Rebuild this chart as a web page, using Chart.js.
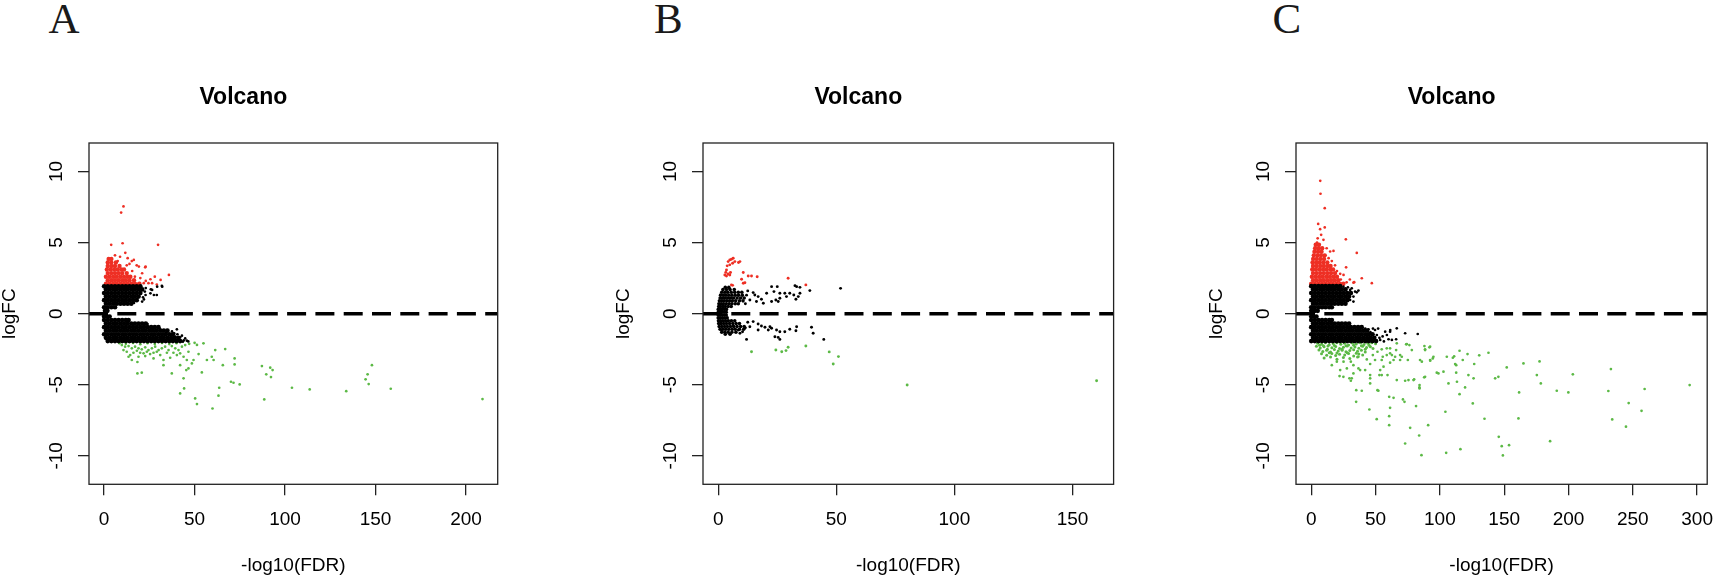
<!DOCTYPE html>
<html>
<head>
<meta charset="utf-8">
<script src="https://cdn.jsdelivr.net/npm/chart.js@4.4.1/dist/chart.umd.min.js"></script>
<style>
  html, body { margin: 0; padding: 0; background: #fff; overflow: hidden; }
  body { width: 1713px; height: 578px; position: relative; }
  canvas { position: absolute; top: 0; }
  .letter { position: absolute; top: -2.7px; font: 43px/43px "Liberation Serif", "Times New Roman", serif; color: #1a1a1a; }
</style>
</head>
<body>
<div class="letter" style="left:48.5px">A</div>
<div class="letter" style="left:654px">B</div>
<div class="letter" style="left:1272.5px">C</div>
<canvas id="chartA"></canvas>
<canvas id="chartB"></canvas>
<canvas id="chartC"></canvas>
<script>
// shared axis values
const yTicks = [-10, -5, 0, 5, 10];
const yRange = [-12, 12];
const aXTicks = [0, 50, 100, 150, 200];
const bXTicks = [0, 50, 100, 150];
const cXTicks = [0, 50, 100, 150, 200, 250, 300];

// panel A  (rows are [logFC, [-log10FDR ...]], pts are [-log10FDR, logFC])
const aRedRows = [
	[3.85, [2.5, 4]],
	[3.6, [2, 4, 6.5]],
	[3.35, [2, 4, 6, 8.5]],
	[3.1, [1.5, 3.5, 5.5, 7.5, 9.5, 11]],
	[2.85, [2, 4, 6, 8, 10, 12.5]],
	[2.6, [1, 3, 5, 7, 9, 11, 13, 14.5]],
	[2.35, [2, 4, 6, 8, 10, 12, 14, 16.5]],
	[2.1, [1, 3, 5, 7, 9, 11, 13, 15, 17, 19.5]]
];
const aRedPts = [[10.7, 7.54], [9.4, 7.11], [3.9, 4.84], [10.2, 4.95], [29.8, 4.84], [11.7, 4.28], [35.8, 2.72],
	[31.2, 2.37], [25.6, 2.42], [22.9, 3.31], [16.4, 3.78], [19.2, 3.31], [21, 2.84], [26.5, 2.14], [21.9, 2.14],
	[8.8, 4.0], [6, 4.1], [14, 3.5], [13, 3.9], [17, 2.6], [23, 2.3], [28, 2.6], [18.5, 2.1], [15.5, 3.0],
	[12.5, 3.4], [20, 2.5], [7.5, 3.7], [15.3, 3.7], [18, 3.4], [22.7, 3.26], [29.1, 2.05], [24.5, 2.14]];
const aBlackUpRows = [
	[1.92, [0, 2, 4, 6, 8, 10, 12, 14, 16, 18, 20]],
	[1.7, [1, 3, 5, 7, 9, 11, 13, 15, 17, 19, 21]],
	[1.45, [0, 2, 4, 6, 8, 10, 12, 14, 16, 18, 20]],
	[1.2, [1, 3, 5, 7, 9, 11, 13, 15, 17, 19]],
	[0.95, [0, 2, 4, 6, 8, 10, 12, 14, 16, 18]],
	[0.7, [1, 3, 5, 7, 9, 11, 13, 15]],
	[0.45, [0, 2, 4, 6]],
	[0.2, [0.5, 1.8]]
];
const aBlackLowRows = [
	[-0.2, [0, 1.5, 3]],
	[-0.45, [0, 2, 4, 6, 8, 10, 12, 13.5]],
	[-0.7, [1, 3, 5, 7, 9, 11, 13, 15, 17, 19, 21, 23]],
	[-0.95, [0, 2, 4, 6, 8, 10, 12, 14, 16, 18, 20, 22, 24, 26, 28, 30]],
	[-1.2, [1, 3, 5, 7, 9, 11, 13, 15, 17, 19, 21, 23, 25, 27, 29, 31, 33, 35]],
	[-1.45, [0, 2, 4, 6, 8, 10, 12, 14, 16, 18, 20, 22, 24, 26, 28, 30, 32, 34, 36, 38]],
	[-1.7, [1, 3, 5, 7, 9, 11, 13, 15, 17, 19, 21, 23, 25, 27, 29, 31, 33, 35, 37, 39, 41]],
	[-1.93, [2, 4, 6, 8, 10, 12, 14, 16, 18, 20, 22, 24, 26, 28, 30, 32, 34, 36, 38, 40, 42]]
];
const aBlackPts = [[26.5, 1.67], [29.3, 1.9], [32.1, 1.9], [25.6, 1.43], [27.5, 1.31], [22.9, 1.31], [21, 0.85],
	[29.1, 1.31], [31.9, 1.95], [25.8, 1.71], [23, 1.8], [22, 1.0], [16.5, 0.75], [22.5, 1.55], [21.5, 1.15],
	[24, -0.73], [27.3, -0.96], [31, -1.1], [34.3, -1.34], [36.5, -1.5], [39.3, -1.62], [41.1, -1.81],
	[43.5, -1.97], [45.7, -1.9], [40.2, -1.1], [38.7, -1.38], [34.7, -1.15], [42, -1.67], [44.8, -1.74],
	[37.5, -1.25], [40.5, -1.45], [43, -1.55], [44, -1.88], [46.5, -1.95], [39, -1.85]];
const aGreenPts = [[9.8, -2.21], [11.6, -2.32], [13.5, -2.28], [15.3, -2.44], [17.1, -2.32], [19, -2.44], [20.8, -2.51],
	[22.7, -2.37], [24.5, -2.56], [26.4, -2.44], [28.2, -2.32], [30.1, -2.56], [31.9, -2.44], [33.7, -2.32],
	[35.6, -2.56], [37.4, -2.28], [39.3, -2.44], [41.1, -2.56], [43, -2.32], [44.8, -2.21],
	[10.7, -2.56], [12.5, -2.68], [14.4, -2.91], [16.2, -2.75], [18.1, -2.61], [19.9, -2.75], [21.8, -2.79],
	[23.6, -2.68], [25.4, -2.84], [27.3, -2.75], [29.1, -2.68], [31, -2.91], [34.7, -2.75], [38.3, -2.75], [42, -2.79],
	[13.5, -3.03], [15.3, -3.26], [19, -3.03], [22.7, -2.98], [27.3, -3.15], [32.8, -3.26], [36.5, -3.1],
	[40.2, -2.91], [43.9, -3.03], [46.6, -2.68],
	[8.5, -2.08], [12, -2.12], [16, -2.06], [20, -2.15], [24, -2.08], [28, -2.13], [32, -2.06], [36, -2.14],
	[40, -2.08], [47, -2.12], [50, -2.05],
	[18.4, -3.4], [18.4, -4.2], [20.8, -4.15], [32.8, -3.62], [37.4, -4.2], [42, -3.62], [45.4, -3.97],
	[45.7, -3.26], [43.9, -4.55], [44.2, -5.26], [42, -5.61], [50.3, -5.96], [51.3, -6.36], [54, -4.13],
	[52.2, -2.84], [54.9, -2.09], [51.3, -2.2], [56.8, -3.26], [59.5, -3.03], [61.4, -2.56], [66.9, -2.49],
	[60.5, -3.26], [65.6, -3.62], [72.1, -3.15], [72.1, -3.57], [70.1, -4.79], [71.5, -4.86], [74.9, -4.98],
	[63.6, -5.21], [63.2, -5.77], [59.9, -6.67], [87.2, -3.69], [91.8, -3.8], [93.1, -3.97], [89.6, -4.27],
	[92.2, -4.46], [88.5, -6.03], [103.8, -5.21], [113.6, -5.33], [133.8, -5.45], [148, -3.62], [145.6, -4.27],
	[144.5, -4.62], [146.2, -4.95], [158.4, -5.28], [49.4, -3.26], [48.5, -3.5], [46.6, -3.85], [209.1, -6.01]];

// panel B
const bRedPts = [[5.6, 3.83], [6.35, 3.9], [4.9, 3.78], [7.05, 3.66], [4.2, 3.66], [9.2, 3.66], [3.8, 3.36],
	[4.9, 3.43], [6.1, 3.54], [3.5, 3.07], [2.8, 2.72], [4.2, 2.79], [3.5, 2.65], [4.9, 2.72], [5.2, 2.89],
	[10.6, 2.89], [12.7, 2.65], [14.1, 2.65], [16.5, 2.6], [9.9, 2.42], [10.6, 2.14], [5.6, 2.02], [29.6, 2.49],
	[37.1, 2.02], [3.2, 2.9], [8.6, 3.6], [11.3, 2.17], [6.1, 1.99]];
const bBlackRows = [
	[1.85, [3, 4.5]],
	[1.7, [2, 3.5, 5, 6.8]],
	[1.5, [1.5, 2.8, 4, 5.5, 7, 8.5, 10]],
	[1.3, [1, 2.2, 3.3, 4.5, 5.8, 7.2, 8.6, 10.2]],
	[1.1, [0.8, 1.8, 2.8, 4, 5.2, 6.5, 8, 9.5, 11]],
	[0.9, [0.5, 1.5, 2.5, 3.6, 4.8, 6, 7.4, 9, 10.5]],
	[0.7, [0.3, 1.2, 2.2, 3.4, 4.6, 5.8, 7.2, 8.5]],
	[0.5, [0.2, 1, 2, 3, 4.2, 5.5]],
	[0.3, [0, 0.8, 1.6, 2.6, 3.5]],
	[0.1, [0, 0.8, 1.6, 2.5, 3.4]],
	[-0.1, [0, 0.8, 1.6, 2.5, 3.4]],
	[-0.3, [0, 0.8, 1.8, 2.8, 3.8]],
	[-0.5, [0.1, 1, 2, 3.1, 4.3, 5.6, 7]],
	[-0.7, [0.2, 1.2, 2.3, 3.5, 4.8, 6.2, 7.6, 9]],
	[-0.9, [0.4, 1.5, 2.7, 3.9, 5.2, 6.6, 8, 9.5, 11]],
	[-1.1, [0.8, 2, 3.2, 4.5, 5.9, 7.2, 9, 10.8]],
	[-1.3, [1.5, 2.8, 4.2, 5.8, 7.5]],
	[-1.45, [3, 5]]
];
const bBlackPts = [[14.8, 1.48], [15.5, 1.31], [16.9, 1.2], [18.3, 1.01], [20.5, 1.43], [22.6, 1.9], [25, 1.9],
	[23.6, 1.55], [26.1, 1.43], [28.2, 1.43], [24.4, 0.96], [22.6, 0.85], [32.5, 1.97], [33.2, 1.9], [34.6, 1.85],
	[32, 1.31], [33.9, 1.2], [34.6, 1.43], [30.3, 1.43], [38.8, 1.62], [51.8, 1.78], [19.1, 0.73], [16.2, 0.85],
	[13.4, 0.96], [26.1, 1.08], [28.9, 1.2], [25.4, 0.85], [32.9, 1.01], [12, 1.3], [12.5, 1.6], [11.5, 0.7],
	[14.8, -0.56], [16.9, -0.73], [18.3, -0.87], [19.8, -0.96], [21.9, -0.92], [22.6, -1.03], [24.7, -1.15],
	[26.1, -1.27], [24, -1.62], [25.4, -1.67], [26.1, -1.81], [30.3, -1.1], [33.2, -0.92], [32.9, -1.2],
	[39.5, -0.96], [40.2, -1.38], [44.7, -1.81], [12, -1.81], [10.3, -1.27], [8.5, -1.15], [6.4, -0.87],
	[9.2, -1.38], [1.4, -1.15], [13.4, -0.92], [16.9, -1.15], [21.2, -1.15], [28.2, -1.27], [12.5, -0.6], [11.5, -1.0]];
const bGreenPts = [[14.1, -2.68], [24.4, -2.56], [26.9, -2.68], [28.7, -2.6], [29.6, -2.36], [37.1, -2.28],
	[47, -2.69], [50.9, -3.02], [48.7, -3.54], [80, -5.02], [160.2, -4.72]];

// panel C
const cRedRows = [
	[4.85, [3.5, 6]],
	[4.6, [3, 5.8, 8.5]],
	[4.35, [2.5, 5.3, 8]],
	[4.1, [2, 4.8, 7.6, 10.5]],
	[3.85, [1.5, 4.3, 7.1, 10]],
	[3.6, [1, 3.8, 6.6, 9.4, 12.5]],
	[3.35, [1.4, 4.2, 7, 9.8, 12.6, 15]],
	[3.1, [0.8, 3.6, 6.4, 9.2, 12, 14.8, 17]],
	[2.85, [1.4, 4.2, 7, 9.8, 12.6, 15.4, 18.5]],
	[2.6, [0.5, 3.3, 6.1, 8.9, 11.7, 14.5, 17.3, 20]],
	[2.35, [1.4, 4.2, 7, 9.8, 12.6, 15.4, 18.2, 21]],
	[2.1, [0, 2.8, 5.6, 8.4, 11.2, 14, 16.8, 19.6, 22.4, 25]]
];
const cRedPts = [[7, 9.34], [7.2, 8.43], [10.5, 7.42], [5.4, 6.31], [6.9, 5.94], [10.5, 6.06], [7.7, 5.54],
	[26.9, 5.23], [9.5, 5.19], [3.8, 4.84], [35.4, 4.27], [14.7, 4.37], [17.3, 4.41], [27.1, 3.26], [39.3, 2.49],
	[47.1, 2.14], [33.4, 2.21], [25.1, 2.72], [12, 4.6], [16, 3.7], [20, 3.0], [22.5, 2.8], [18.5, 3.4],
	[23, 2.4], [27.5, 2.2], [30, 2.4], [13.5, 3.9], [5, 5.3], [4.5, 5.0], [32.8, 2.18]];
const cBlackUpRows = [
	[1.93, [0, 2.8, 5.6, 8.4, 11.2, 14, 16.8, 19.6, 22.4]],
	[1.7, [1.4, 4.2, 7, 9.8, 12.6, 15.4, 18.2, 21, 23.8, 26.6]],
	[1.45, [0, 2.8, 5.6, 8.4, 11.2, 14, 16.8, 19.6, 22.4, 25.2, 28, 30.8]],
	[1.2, [1.4, 4.2, 7, 9.8, 12.6, 15.4, 18.2, 21, 23.8, 26.6, 29.4]],
	[0.95, [0, 2.8, 5.6, 8.4, 11.2, 14, 16.8, 19.6, 22.4, 25.2, 28]],
	[0.7, [1.4, 4.2, 7, 9.8, 12.6, 15.4, 18.2, 21, 23.8, 26.6]],
	[0.45, [0, 2.8, 5.6, 8.4, 11.2, 14, 16]],
	[0.2, [0, 2.8, 5]]
];
const cBlackLowRows = [
	[-0.2, [0, 2, 4]],
	[-0.45, [0, 2.8, 5.6, 8.4, 11.2, 14, 16]],
	[-0.7, [1.4, 4.2, 7, 9.8, 12.6, 15.4, 18.2, 21, 23.8, 26.6, 29.4]],
	[-0.95, [0, 2.8, 5.6, 8.4, 11.2, 14, 16.8, 19.6, 22.4, 25.2, 28, 30.8, 33.6, 36.4, 39.2]],
	[-1.2, [1.4, 4.2, 7, 9.8, 12.6, 15.4, 18.2, 21, 23.8, 26.6, 29.4, 32.2, 35, 37.8, 40.6, 43.4]],
	[-1.45, [0, 2.8, 5.6, 8.4, 11.2, 14, 16.8, 19.6, 22.4, 25.2, 28, 30.8, 33.6, 36.4, 39.2, 42, 44.8, 47.6]],
	[-1.7, [1.4, 4.2, 7, 9.8, 12.6, 15.4, 18.2, 21, 23.8, 26.6, 29.4, 32.2, 35, 37.8, 40.6, 43.4, 46.2, 49]],
	[-1.93, [0, 2.8, 5.6, 8.4, 11.2, 14, 16.8, 19.6, 22.4, 25.2, 28, 30.8, 33.6, 36.4, 39.2, 42, 44.8, 47.6, 50.4]]
];
const cBlackPts = [[30.2, 1.67], [34.1, 1.55], [36.7, 1.62], [32.8, 1.2], [30.2, 0.96], [27.6, 1.43], [31.5, 1.78],
	[35.4, 1.5], [32.8, 0.85], [25, 1.9], [66.5, -1.03], [73, -1.38], [82.8, -1.43], [61.3, -1.27], [58.8, -1.5],
	[62.7, -1.85], [66, -1.8], [53.6, -1.85], [49.6, -1.15], [44.5, -1.1], [57.5, -1.27], [61.4, -1.15],
	[60.1, -1.8], [55.5, -1.6], [52, -1.05], [29, 1.05], [28.5, 1.85], [46, -1.3], [51, -1.5], [53, -1.7],
	[48, -1.05], [42, -1.05], [56.5, -1.95]];
const cGreenBand = [[5, -2.08], [8, -2.15], [11, -2.05], [14, -2.18], [17, -2.1], [20, -2.04], [23, -2.16],
	[26, -2.08], [29, -2.2], [32, -2.06], [35, -2.13], [38, -2.05], [41, -2.17], [44, -2.09], [47, -2.04], [50, -2.12],
	[4, -2.3], [7, -2.42], [10, -2.33], [13, -2.27], [16, -2.4], [19, -2.31], [22, -2.45], [25, -2.36],
	[28, -2.28], [31, -2.41], [34, -2.34], [37, -2.44], [40, -2.3], [43, -2.38], [46, -2.32],
	[6, -2.55], [9, -2.66], [12, -2.58], [15, -2.7], [18, -2.52], [21, -2.63], [24, -2.57], [27, -2.68],
	[30, -2.6], [33, -2.53], [36, -2.65], [39, -2.58], [42, -2.7],
	[8, -2.82], [12, -2.92], [16, -2.8], [19, -2.95], [22, -2.86], [26, -2.9], [29, -2.8], [33, -2.97],
	[37, -2.84], [40, -2.9], [10, -3.12], [15, -3.05], [20, -3.2], [25, -3.08], [30, -3.15], [36, -3.04],
	[6.5, -2.22], [9.5, -2.25], [12.5, -2.5], [18, -2.24], [24, -2.5], [27, -2.25], [33, -2.22], [39, -2.25],
	[42, -2.5], [45, -2.22], [48, -2.45], [14, -2.75], [20, -2.77], [28, -2.75], [35, -2.78]];
const cGreenPts = [[16, -3.62], [22, -4.39], [29.7, -4.55], [35, -5.38], [39.3, -5.42], [45.8, -4.55], [52.2, -5.42],
	[53, -4.32], [56.2, -3.73], [59.3, -4.32], [61.3, -3.45], [66, -2.56], [66.5, -4.67], [62.7, -2.91],
	[73.8, -2.16], [73, -4.72], [78.2, -2.56], [80, -4.62], [84.1, -5.19], [87.8, -4.48], [88.5, -2.51],
	[91.9, -2.37], [92.5, -3.31], [94.5, -3.15], [97.6, -4.15], [102.8, -4.08], [105.4, -3.03], [111.1, -3.0],
	[111.9, -3.54], [112.7, -4.15], [113.3, -4.79], [45.8, -3.54], [49.6, -3.26], [41.9, -3.97], [36.7, -3.85],
	[32.8, -3.62], [27.7, -3.85], [25.1, -3.38], [19.9, -3.38], [22.5, -3.97], [30.8, -3.38], [36.7, -3.03],
	[43.2, -3.22], [47.9, -2.91], [51.5, -2.68], [54.8, -2.51], [58.7, -2.44], [61.3, -2.79], [55.6, -3.03],
	[65.2, -3.03], [69.1, -2.91], [75.1, -3.26], [86, -3.38],
	[31.5, -4.55], [34.9, -6.2], [45.2, -6.74], [50.9, -7.42], [45.8, -4.91], [60.6, -5.85], [64, -5.92],
	[61.3, -6.62], [60.6, -7.21], [60.6, -7.84], [71.3, -6.03], [72.5, -6.2], [76.9, -8.03], [83.9, -8.57],
	[73, -9.13], [81.5, -6.5], [90.9, -7.84], [104.3, -6.9], [125.6, -6.31], [134.7, -7.39], [145.8, -8.66],
	[148.1, -9.32], [153.8, -9.25], [185.7, -8.97], [161.1, -7.37], [161.6, -5.54], [190.9, -5.42],
	[199.9, -5.54], [203.4, -4.27], [175.4, -4.32], [178.5, -4.91], [177.5, -3.36], [165, -3.5], [152, -3.78],
	[143, -4.55], [145.5, -4.44], [137.8, -2.75], [130.6, -2.93], [126.7, -3.54], [122.2, -4.32], [126.2, -4.55],
	[119.6, -5.19], [115.3, -5.66], [112.7, -3.62], [115.3, -2.61], [121.5, -2.84], [117.8, -3.26], [110.1, -3.1],
	[98.9, -4.2], [106.7, -4.91], [95, -3.03], [92.4, -3.26], [88.5, -4.44], [84.2, -5.02], [84.2, -5.26],
	[79.5, -4.67], [75.6, -4.67], [92.4, -2.32], [88.5, -2.56], [88, -2.28], [84.6, -3.26], [76.3, -2.21],
	[70.4, -3.03], [69.1, -3.26], [54.8, -3.26], [53.6, -3.97], [54.8, -4.32], [45.8, -4.32], [51.5, -5.38],
	[66.5, -2.09], [74.3, -2.14], [61.3, -2.44], [58.7, -2.91], [64, -3.26], [38, -3.97], [32.8, -4.2],
	[25, -4.44], [30.8, -4.72],
	[85.7, -9.95], [104.9, -9.79], [116, -9.53], [149, -9.97], [231, -5.44], [234, -7.44], [244.7, -7.95],
	[246.8, -6.29], [256.8, -6.83], [259.2, -5.3], [294.2, -5.02], [233, -3.9]];

const RED = '#ee2f24';
const GREEN = '#5cb946';
const BLACK = '#000000';
const FONT = '"Liberation Sans", Arial, Helvetica, sans-serif';

const CHART_H = 578;
const AREA_BOTTOM = 484.3;
const Y_AXIS_W = 100;
const PAD_RIGHT = 24;

const rowsToPoints = rows => rows.flatMap(([y, xs]) => xs.map(x => ({ x, y })));
const pairsToPoints = pairs => pairs.map(([x, y]) => ({ x, y }));

// R style box round the plot region
const boxPlugin = {
	id: 'box',
	afterDraw(chart) {
		const { ctx, chartArea: a } = chart;
		ctx.save();
		ctx.strokeStyle = '#222';
		ctx.lineWidth = 1.3;
		ctx.strokeRect(a.left, a.top, a.right - a.left, a.bottom - a.top);
		ctx.restore();
	}
};

const tickGrid = {
	display: true,
	drawOnChartArea: false,
	drawTicks: true,
	tickLength: 11,
	tickColor: '#222',
	tickWidth: 1.3,
	color: '#222',
	lineWidth: 1.3
};

const makePanel = (canvasId, boxLeft, boxWidth, xMin, xMax, xTicks, layers) => {
	const canvas = document.getElementById(canvasId);
	const w = Math.ceil(Y_AXIS_W + boxWidth + PAD_RIGHT);
	canvas.width = w;
	canvas.height = CHART_H;
	canvas.style.left = (boxLeft - Y_AXIS_W) + 'px';
	canvas.style.width = w + 'px';
	canvas.style.height = CHART_H + 'px';

	const datasets = [{
		data: [{ x: xMin, y: 0 }, { x: xMax, y: 0 }],
		showLine: true,
		borderColor: BLACK,
		borderWidth: 3.5,
		borderDash: [19, 9.3],
		borderCapStyle: 'butt',
		pointRadius: 0,
		order: 0
	}];
	layers.forEach(l => {
		datasets.push({
			data: l.points,
			showLine: false,
			pointRadius: l.radius,
			pointHoverRadius: l.radius,
			backgroundColor: l.color,
			pointBackgroundColor: l.color,
			pointBorderWidth: 0,
			order: 1
		});
	});

	new Chart(canvas, {
		type: 'scatter',
		data: { datasets },
		options: {
			responsive: false,
			animation: false,
			events: [],
			layout: { padding: { top: 83.4, left: 0, right: w - Y_AXIS_W - boxWidth, bottom: 0 } },
			plugins: {
				legend: { display: false },
				tooltip: { enabled: false },
				title: {
					display: true,
					text: 'Volcano',
					color: '#000',
					font: { family: FONT, size: 23, weight: 'bold' },
					padding: { top: 0, bottom: 32 }
				}
			},
			scales: {
				x: {
					type: 'linear',
					min: xMin,
					max: xMax,
					afterBuildTicks: s => { s.ticks = xTicks.map(v => ({ value: v })); },
					afterFit: s => { s.height = CHART_H - AREA_BOTTOM; },
					grid: tickGrid,
					border: { display: false },
					ticks: { color: '#000', font: { family: FONT, size: 19 }, padding: 13.3, maxRotation: 0, autoSkip: false },
					title: {
						display: true, text: '-log10(FDR)', color: '#000',
						font: { family: FONT, size: 19 }, padding: { top: 0, bottom: 0.6 }
					}
				},
				y: {
					type: 'linear',
					min: yRange[0],
					max: yRange[1],
					afterBuildTicks: s => { s.ticks = yTicks.map(v => ({ value: v })); },
					afterFit: s => { s.width = Y_AXIS_W; },
					grid: tickGrid,
					border: { display: false },
					ticks: {
						color: '#000', font: { family: FONT, size: 19 }, padding: 7.2,
						minRotation: 90, maxRotation: 90, crossAlign: 'center', autoSkip: false
					},
					title: {
						display: true, text: 'logFC', color: '#000',
						font: { family: FONT, size: 19 }, padding: { top: 9, bottom: 0 }
					}
				}
			}
		},
		plugins: [boxPlugin]
	});
};

makePanel('chartA', 88.5, 408.7, -8.36, 217.5, aXTicks, [
	{ points: rowsToPoints(aBlackUpRows), color: BLACK, radius: 2.35 },
	{ points: rowsToPoints(aBlackLowRows), color: BLACK, radius: 2.35 },
	{ points: pairsToPoints(aBlackPts), color: BLACK, radius: 1.35 },
	{ points: rowsToPoints(aRedRows), color: RED, radius: 2.2 },
	{ points: pairsToPoints(aRedPts), color: RED, radius: 1.35 },
	{ points: pairsToPoints(aGreenPts), color: GREEN, radius: 1.35 }
]);

makePanel('chartB', 703.2, 410.6, -6.44, 167.4, bXTicks, [
	{ points: rowsToPoints(bBlackRows), color: BLACK, radius: 1.8 },
	{ points: pairsToPoints(bBlackPts), color: BLACK, radius: 1.45 },
	{ points: pairsToPoints(bRedPts), color: RED, radius: 1.45 },
	{ points: pairsToPoints(bGreenPts), color: GREEN, radius: 1.45 }
]);

makePanel('chartC', 1295.9, 411.2, -11.85, 307.85, cXTicks, [
	{ points: rowsToPoints(cBlackUpRows), color: BLACK, radius: 2.35 },
	{ points: rowsToPoints(cBlackLowRows), color: BLACK, radius: 2.35 },
	{ points: pairsToPoints(cBlackPts), color: BLACK, radius: 1.35 },
	{ points: rowsToPoints(cRedRows), color: RED, radius: 2.2 },
	{ points: pairsToPoints(cRedPts), color: RED, radius: 1.35 },
	{ points: pairsToPoints(cGreenBand), color: GREEN, radius: 1.5 },
	{ points: pairsToPoints(cGreenPts), color: GREEN, radius: 1.35 }
]);
</script>
</body>
</html>
